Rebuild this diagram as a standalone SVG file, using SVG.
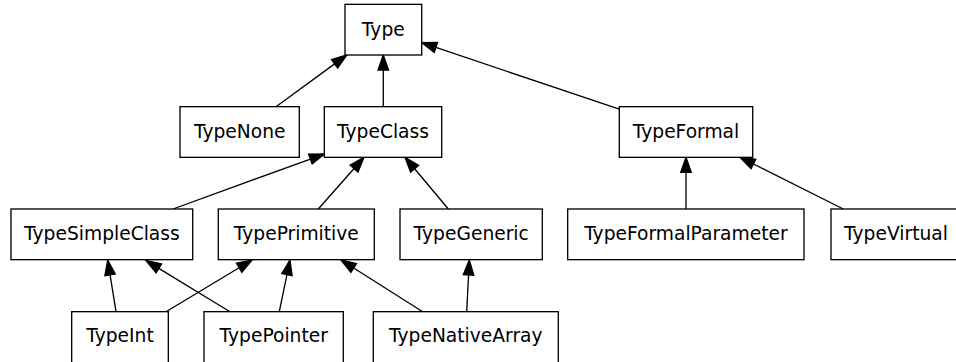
<svg xmlns="http://www.w3.org/2000/svg" width="956" height="362" viewBox="0 0 956 362">
<style>
.n rect{fill:#fff;stroke:#000;stroke-width:1.33}
.n text{font-family:"DejaVu Sans",sans-serif;font-size:18.67px;text-anchor:middle;fill:#000}
#edges line{stroke:#000;stroke-width:1.33}
#edges polygon{fill:#000;stroke:#000;stroke-width:1.33}
</style>
<rect width="956" height="362" fill="#fff"/>
<g id="edges">
<line x1="276" y1="106.7" x2="334.59" y2="63.85"/><polygon points="346.7,55 337.69,68.09 331.49,59.61"/>
<line x1="383.3" y1="106.7" x2="383.3" y2="70"/><polygon points="383.3,55 378.05,70 388.55,70"/>
<line x1="620" y1="109.3" x2="435.92" y2="47.48"/><polygon points="421.7,42.7 437.59,42.5 434.25,52.46"/>
<line x1="173" y1="209" x2="310.4" y2="159.03"/><polygon points="324.5,153.9 312.2,163.96 308.6,154.1"/>
<line x1="318.3" y1="209" x2="354.07" y2="168.54"/><polygon points="364,157.3 358,172.02 350.14,165.06"/>
<line x1="448.3" y1="209" x2="414.63" y2="168.8"/><polygon points="405,157.3 418.65,165.43 410.61,172.17"/>
<line x1="116" y1="311.7" x2="110.08" y2="274.81"/><polygon points="107.7,260 115.26,273.98 104.9,275.64"/>
<line x1="166" y1="311.7" x2="239.14" y2="267.73"/><polygon points="252,260 241.84,272.23 236.44,263.23"/>
<line x1="230" y1="311.7" x2="158.81" y2="268.31"/><polygon points="146,260.5 161.54,263.83 156.08,272.79"/>
<line x1="279.3" y1="311.7" x2="286.96" y2="274.69"/><polygon points="290,260 292.1,275.75 281.82,273.63"/>
<line x1="422.7" y1="311.7" x2="353.68" y2="268.02"/><polygon points="341,260 356.49,263.58 350.87,272.46"/>
<line x1="466.7" y1="311.7" x2="468.55" y2="274.98"/><polygon points="469.3,260 473.79,275.24 463.31,274.72"/>
<line x1="686" y1="209" x2="686" y2="172.3"/><polygon points="686,157.3 680.75,172.3 691.25,172.3"/>
<line x1="843.3" y1="209" x2="753.41" y2="164.01"/><polygon points="740,157.3 755.76,159.32 751.06,168.7"/>
</g>
<g id="Type" class="n"><rect x="345" y="4.33" width="76.7" height="50.67"/><text x="383.3" y="35.5">Type</text></g>
<g id="TypeNone" class="n"><rect x="180" y="106.67" width="119.3" height="50.67"/><text x="239.7" y="137.8">TypeNone</text></g>
<g id="TypeClass" class="n"><rect x="324.3" y="106.67" width="117.4" height="50.67"/><text x="383" y="137.8">TypeClass</text></g>
<g id="TypeFormal" class="n"><rect x="619.3" y="106.67" width="133.4" height="50.67"/><text x="686" y="137.8">TypeFormal</text></g>
<g id="TypeSimpleClass" class="n"><rect x="11" y="209" width="181.7" height="50.67"/><text x="101.9" y="240">TypeSimpleClass</text></g>
<g id="TypePrimitive" class="n"><rect x="218.3" y="209" width="156" height="50.67"/><text x="296.3" y="240">TypePrimitive</text></g>
<g id="TypeGeneric" class="n"><rect x="400" y="209" width="142.3" height="50.67"/><text x="471.2" y="240">TypeGeneric</text></g>
<g id="TypeFormalParameter" class="n"><rect x="567.7" y="209" width="236.3" height="50.67"/><text x="685.9" y="240">TypeFormalParameter</text></g>
<g id="TypeVirtual" class="n"><rect x="831" y="209" width="130" height="50.67"/><text x="896" y="240">TypeVirtual</text></g>
<g id="TypeInt" class="n"><rect x="71.7" y="311.67" width="96.6" height="53"/><text x="120" y="342">TypeInt</text></g>
<g id="TypePointer" class="n"><rect x="204" y="311.67" width="139.3" height="53"/><text x="273.7" y="342">TypePointer</text></g>
<g id="TypeNativeArray" class="n"><rect x="373.3" y="311.67" width="185" height="53"/><text x="465.8" y="342">TypeNativeArray</text></g>
</svg>
